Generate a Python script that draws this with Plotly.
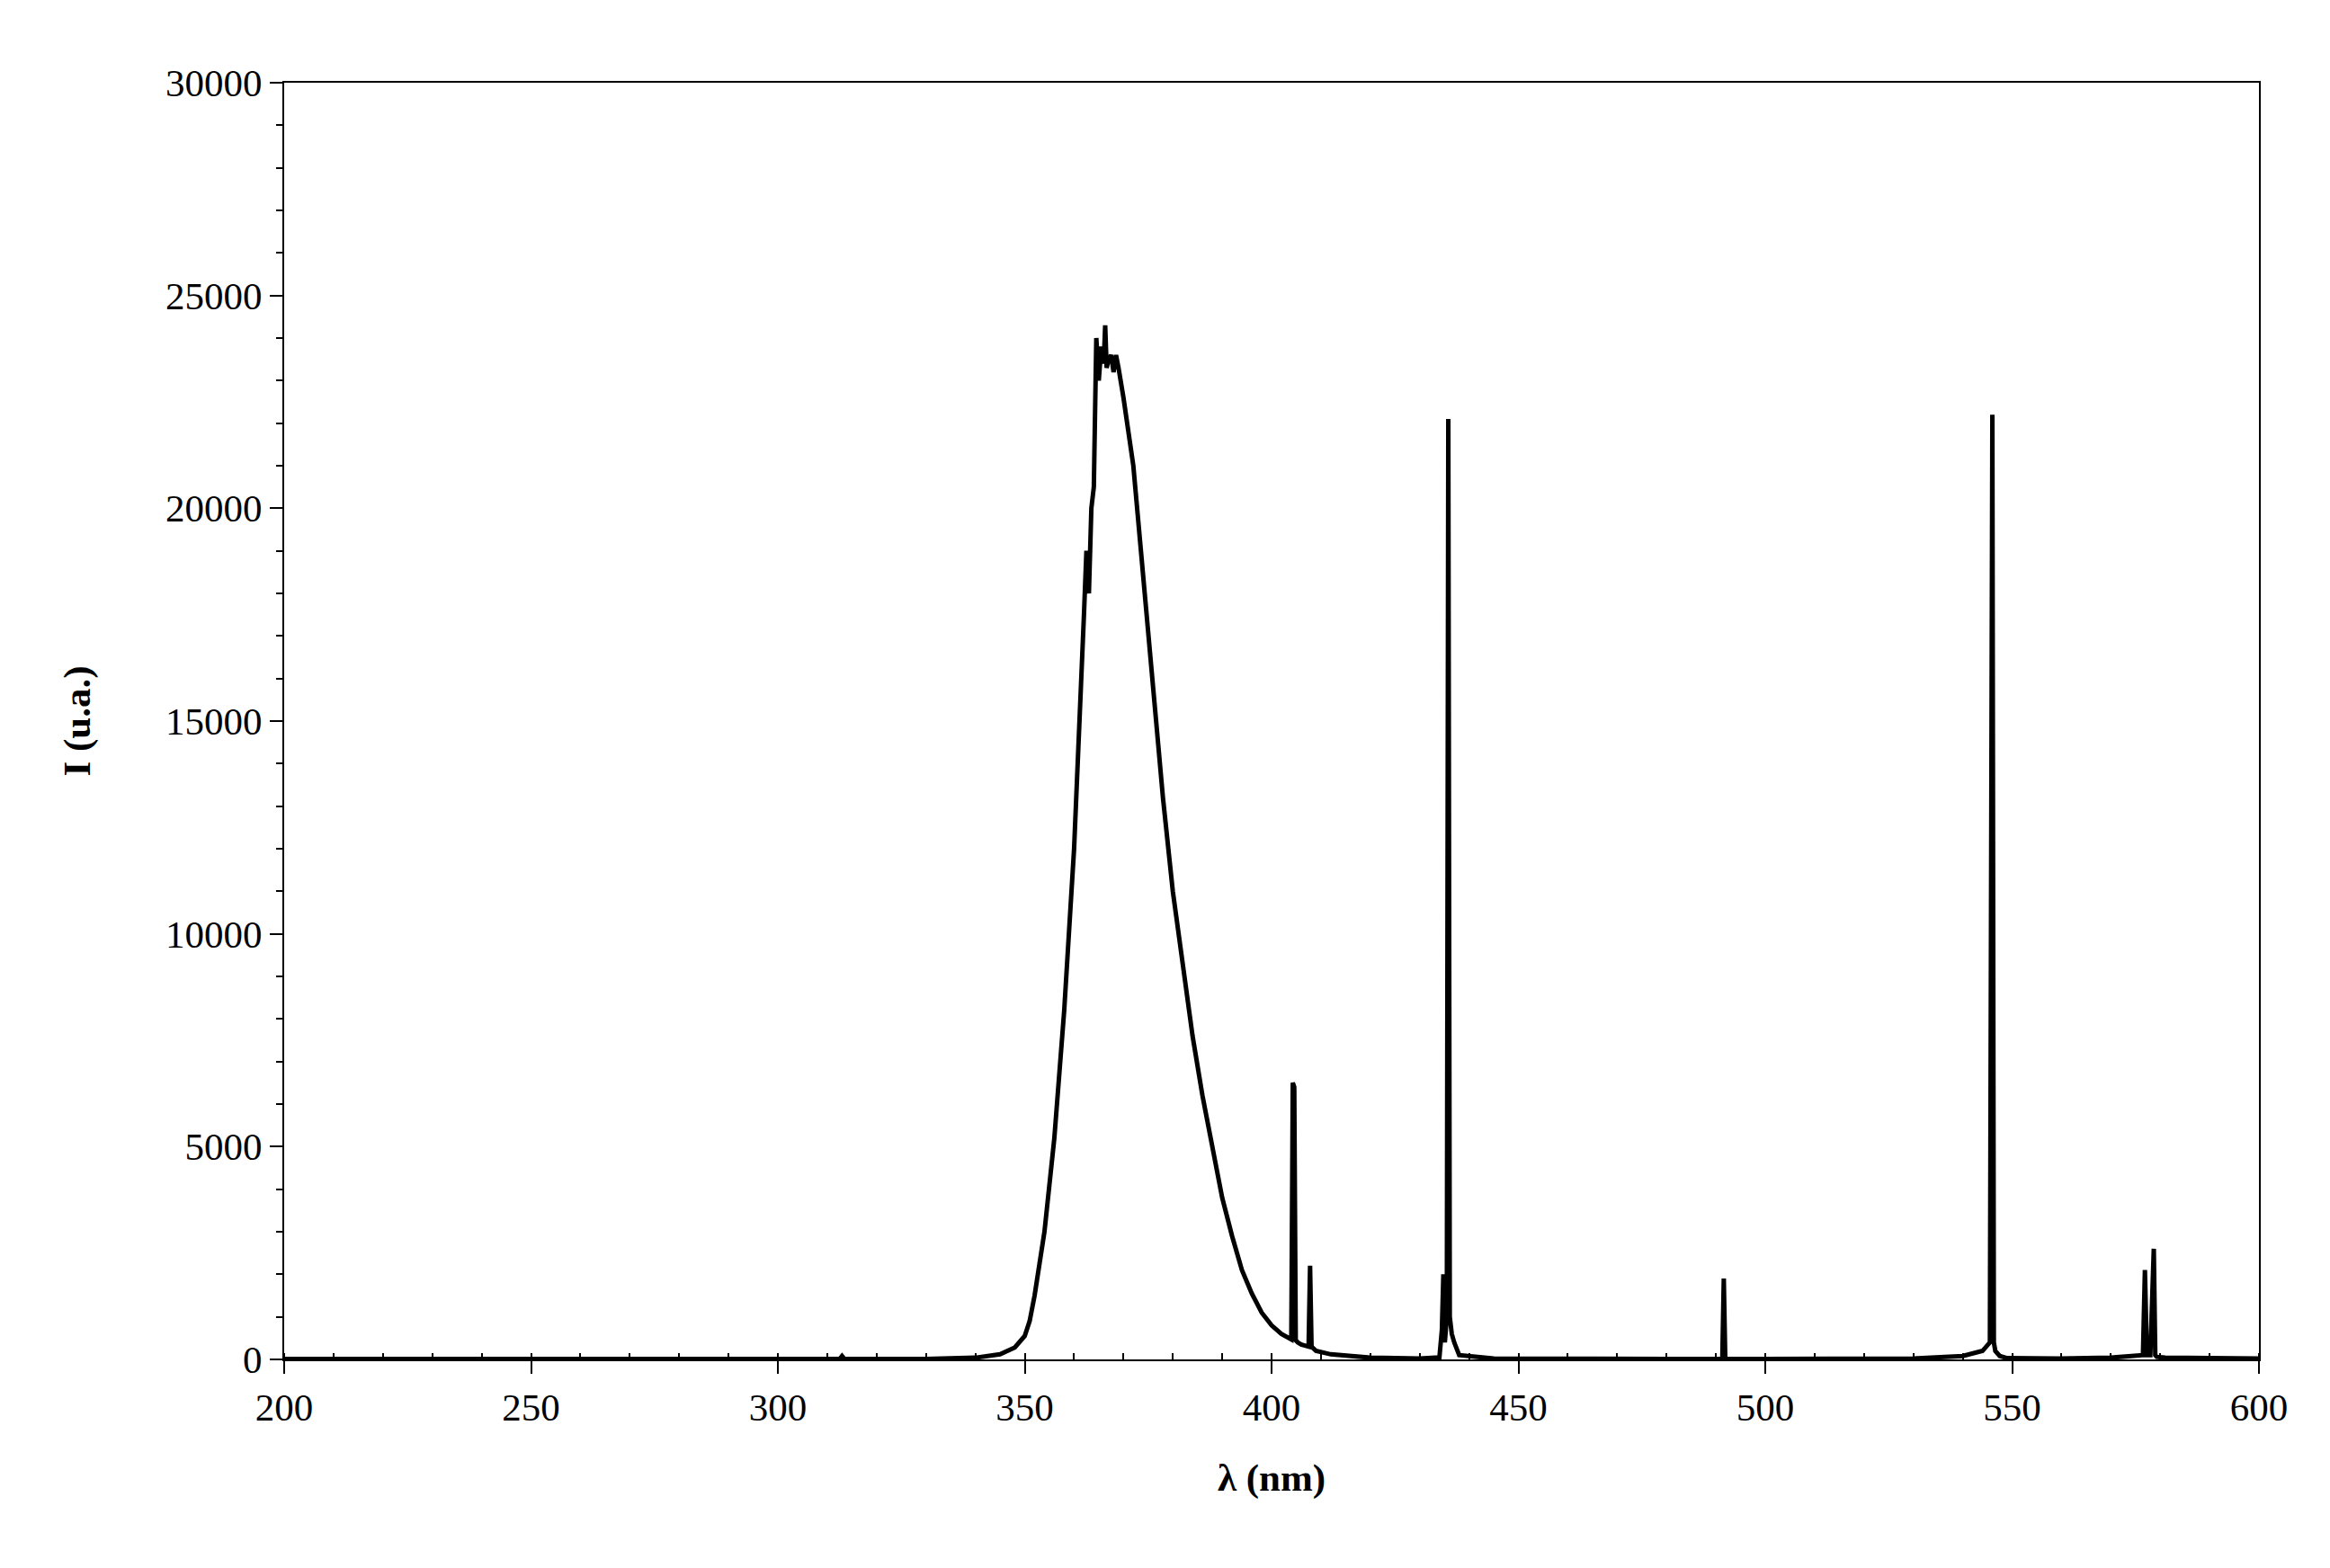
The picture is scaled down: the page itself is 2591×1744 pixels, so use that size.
import plotly.graph_objects as go

wavelength = [200, 250, 300, 312.5, 313, 313.5, 330, 340, 345, 348,
              350, 351, 352, 354, 356, 358, 360, 361, 362, 362.5,
              363, 363.5, 364, 364.5, 365, 365.5, 366, 366.3, 366.6, 367,
              367.5, 368, 368.5, 369, 370, 372, 374, 376, 378, 380,
              382, 384, 386, 388, 390, 392, 394, 396, 398, 400,
              402, 404, 404.3, 404.6, 404.9, 405.3, 406, 407.5, 407.8, 408.1,
              409, 412, 415, 420, 430, 434, 434.5, 434.8, 435.1, 435.5,
              435.8, 436.1, 436.5, 437, 438, 445, 480, 491.3, 491.6, 491.9,
              500, 530, 540, 544, 545.5, 546, 546.3, 546.6, 547.5, 549,
              560, 570, 576.5, 576.9, 577.3, 578, 578.7, 579, 579.3, 581,
              590, 600]
intensity = [10, 10, 15, 10, 80, 10, 10, 40, 120, 280,
             550, 900, 1500, 3000, 5200, 8200, 12000, 14500, 17500, 19000,
             18000, 20000, 20500, 24000, 23000, 23800, 23400, 24300, 23300, 23500,
             23600, 23200, 23600, 23300, 22600, 21000, 18300, 15600, 13200, 11000,
             9200, 7600, 6200, 5000, 3800, 2900, 2100, 1550, 1100, 800,
             600, 470, 6500, 6400, 450, 400, 350, 300, 2200, 300,
             200, 120, 80, 40, 20, 50, 700, 2000, 400, 1000,
             22100, 1000, 600, 400, 100, 20, 10, 10, 1900, 10,
             10, 20, 80, 200, 400, 22200, 400, 200, 80, 30,
             20, 40, 100, 2100, 100, 100, 2600, 100, 60, 40,
             30, 20]

fig = go.Figure(go.Scatter(x=wavelength, y=intensity, mode="lines",
                           line=dict(color="black", width=5)))
font = dict(family="Liberation Serif", size=43, color="black")
fig.update_layout(
    width=2591, height=1744, paper_bgcolor="white", plot_bgcolor="white",
    margin=dict(l=308, r=87, t=84, b=240), showlegend=False, font=font,
)
fig.update_xaxes(range=[200, 600], dtick=50, showgrid=False, zeroline=False,
                 showline=True, linecolor="black", linewidth=2, mirror=True,
                 ticks="outside", ticklen=14, tickwidth=2, tickcolor="black",
                 minor=dict(dtick=10, ticks="inside", ticklen=7, tickwidth=2, tickcolor="black"),
                 title=dict(text="<b>λ (nm)</b>", font=font, standoff=40))
fig.update_yaxes(range=[0, 30000], dtick=5000, tickformat="d", showgrid=False, zeroline=False,
                 showline=True, linecolor="black", linewidth=2, mirror=True,
                 ticks="outside", ticklen=14, tickwidth=2, tickcolor="black",
                 minor=dict(dtick=1000, ticks="outside", ticklen=7, tickwidth=2, tickcolor="black"),
                 title=dict(text="<b>I (u.a.)</b>", font=font, standoff=70))
fig.write_html("out.html")
